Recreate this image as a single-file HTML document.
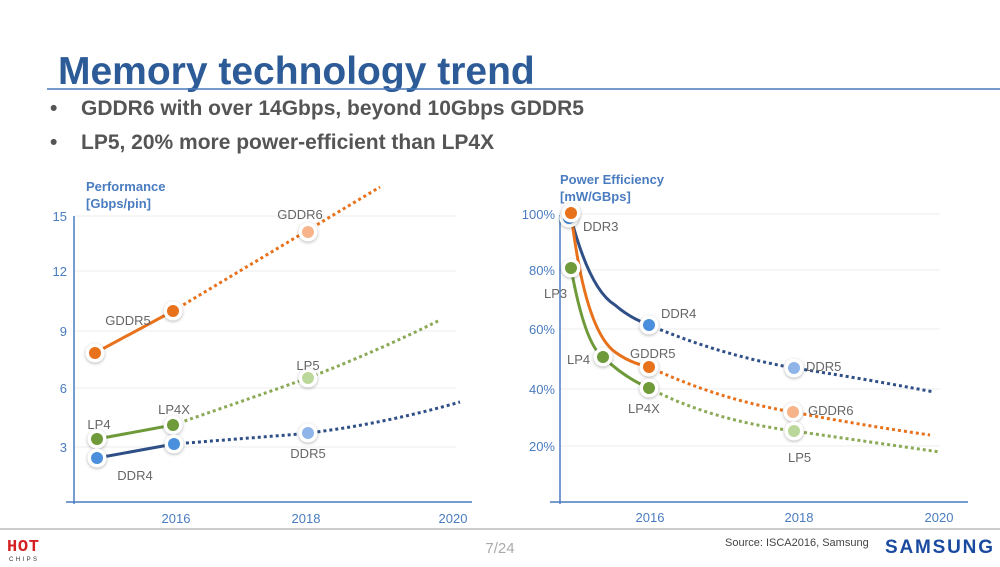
<!DOCTYPE html>
<html><head><meta charset="utf-8"><style>
body{margin:0;width:1000px;height:562px;background:#fff;overflow:hidden;font-family:"Liberation Sans",sans-serif}
</style></head><body>
<svg width="1000" height="562" viewBox="0 0 1000 562" xmlns="http://www.w3.org/2000/svg" font-family="Liberation Sans, sans-serif">
<defs>
<filter id="sh" x="-50%" y="-50%" width="200%" height="200%"><feDropShadow dx="0" dy="1" stdDeviation="1.5" flood-color="#000" flood-opacity="0.3"/></filter>
<g id="m"><circle r="9.5" fill="#fff" filter="url(#sh)"/></g>
</defs>
<text x="58" y="84" font-size="39" font-weight="bold" fill="#2d5b98">Memory technology trend</text>
<line x1="47" y1="89" x2="1000" y2="89" stroke="#4a78b8" stroke-width="1.5"/>
<g font-size="21" font-weight="bold" fill="#555">
<text x="50" y="115">•</text><text x="81" y="115">GDDR6 with over 14Gbps, beyond 10Gbps GDDR5</text>
<text x="50" y="149">•</text><text x="81" y="149">LP5, 20% more power-efficient than LP4X</text>
</g>
<!-- Left chart -->
<g stroke="#eee" stroke-width="1"><line x1="74" y1="216" x2="456" y2="216"/><line x1="74" y1="271" x2="456" y2="271"/><line x1="74" y1="331" x2="456" y2="331"/><line x1="74" y1="388" x2="456" y2="388"/><line x1="74" y1="447" x2="456" y2="447"/></g>
<line x1="74" y1="216" x2="74" y2="504" stroke="#4a7cc0" stroke-width="1.5"/>
<line x1="66" y1="502" x2="472" y2="502" stroke="#4a7cc0" stroke-width="1.5"/>
<g font-size="13" font-weight="bold" fill="#4a7cc0"><text x="86" y="191">Performance</text><text x="86" y="208">[Gbps/pin]</text></g>
<g font-size="13" fill="#4a7cc0" text-anchor="end"><text x="67" y="221">15</text><text x="67" y="276">12</text><text x="67" y="336">9</text><text x="67" y="393">6</text><text x="67" y="452">3</text></g>
<g font-size="13" fill="#4a7cc0" text-anchor="middle"><text x="176" y="523">2016</text><text x="306" y="523">2018</text><text x="453" y="523">2020</text></g>
<g fill="none" stroke-width="3" stroke-dasharray="3,3">
<path d="M173,311 L380,187" stroke="#e8711b"/>
<path d="M173,425 Q260,395 308,378 Q380,350 440,320" stroke="#8aaa55"/>
<path d="M174,444 L300,434 Q380,425 460,402" stroke="#2f4f87"/>
</g>
<g fill="none" stroke-width="3">
<path d="M95,353 L173,311" stroke="#e8711b"/>
<path d="M97,439 L173,425" stroke="#6e9a3a"/>
<path d="M97,458 L174,444" stroke="#2f4f87"/>
</g>
<g>
<use href="#m" x="95" y="353"/><circle cx="95" cy="353" r="6" fill="#e8711b"/>
<use href="#m" x="173" y="311"/><circle cx="173" cy="311" r="6" fill="#e8711b"/>
<use href="#m" x="308" y="232"/><circle cx="308" cy="232" r="6" fill="#f7b48a"/>
<use href="#m" x="97" y="439"/><circle cx="97" cy="439" r="6" fill="#6e9a3a"/>
<use href="#m" x="173" y="425"/><circle cx="173" cy="425" r="6" fill="#6e9a3a"/>
<use href="#m" x="308" y="378"/><circle cx="308" cy="378" r="6" fill="#bcd79a"/>
<use href="#m" x="97" y="458"/><circle cx="97" cy="458" r="6" fill="#4a8fdc"/>
<use href="#m" x="174" y="444"/><circle cx="174" cy="444" r="6" fill="#4a8fdc"/>
<use href="#m" x="308" y="433"/><circle cx="308" cy="433" r="6" fill="#8fb5e8"/>
</g>
<g font-size="13" fill="#666" text-anchor="middle">
<text x="300" y="219">GDDR6</text><text x="128" y="325">GDDR5</text><text x="308" y="370">LP5</text><text x="174" y="414">LP4X</text><text x="99" y="429">LP4</text><text x="308" y="458">DDR5</text><text x="135" y="480">DDR4</text>
</g>
<!-- Right chart -->
<g stroke="#eee" stroke-width="1"><line x1="560" y1="214" x2="940" y2="214"/><line x1="560" y1="270" x2="940" y2="270"/><line x1="560" y1="329" x2="940" y2="329"/><line x1="560" y1="389" x2="940" y2="389"/><line x1="560" y1="446" x2="940" y2="446"/></g>
<line x1="560" y1="215" x2="560" y2="504" stroke="#4a7cc0" stroke-width="1.5"/>
<line x1="550" y1="502" x2="968" y2="502" stroke="#4a7cc0" stroke-width="1.5"/>
<g font-size="13" font-weight="bold" fill="#4a7cc0"><text x="560" y="184">Power Efficiency</text><text x="560" y="201">[mW/GBps]</text></g>
<g font-size="13" fill="#4a7cc0" text-anchor="end"><text x="555" y="219">100%</text><text x="555" y="275">80%</text><text x="555" y="334">60%</text><text x="555" y="394">40%</text><text x="555" y="451">20%</text></g>
<g font-size="13" fill="#4a7cc0" text-anchor="middle"><text x="650" y="522">2016</text><text x="799" y="522">2018</text><text x="939" y="522">2020</text></g>
<g fill="none" stroke-width="3" stroke-dasharray="3,3">
<path d="M649,325 Q720,355 794,368 Q860,378 934,392" stroke="#2f4f87"/>
<path d="M649,367 Q720,400 793,412 Q860,425 930,435" stroke="#e8711b"/>
<path d="M649,388 Q710,420 794,431 Q870,442 940,452" stroke="#8aaa55"/>
</g>
<g fill="none" stroke-width="3">
<path d="M571,218 Q590,290 615,305 Q630,318 649,325" stroke="#2f4f87"/>
<path d="M571,213 Q585,330 615,352 Q630,363 649,367" stroke="#e8711b"/>
<path d="M571,268 Q585,345 603,357 Q625,378 649,388" stroke="#6e9a3a"/>
</g>
<g>
<use href="#m" x="569" y="218"/><circle cx="569" cy="218" r="6" fill="#4a8fdc"/>
<use href="#m" x="571" y="213"/><circle cx="571" cy="213" r="6" fill="#e8711b"/>
<use href="#m" x="571" y="268"/><circle cx="571" cy="268" r="6" fill="#6e9a3a"/>
<use href="#m" x="649" y="325"/><circle cx="649" cy="325" r="6" fill="#4a8fdc"/>
<use href="#m" x="794" y="368"/><circle cx="794" cy="368" r="6" fill="#8fb5e8"/>
<use href="#m" x="603" y="357"/><circle cx="603" cy="357" r="6" fill="#6e9a3a"/>
<use href="#m" x="649" y="367"/><circle cx="649" cy="367" r="6" fill="#e8711b"/>
<use href="#m" x="649" y="388"/><circle cx="649" cy="388" r="6" fill="#6e9a3a"/>
<use href="#m" x="793" y="412"/><circle cx="793" cy="412" r="6" fill="#f7b48a"/>
<use href="#m" x="794" y="431"/><circle cx="794" cy="431" r="6" fill="#bcd79a"/>
</g>
<g font-size="13" fill="#666">
<text x="583" y="231">DDR3</text><text x="544" y="298">LP3</text><text x="661" y="318">DDR4</text><text x="630" y="358">GDDR5</text><text x="806" y="371">DDR5</text><text x="567" y="364">LP4</text><text x="628" y="413">LP4X</text><text x="808" y="415">GDDR6</text><text x="788" y="462">LP5</text>
</g>
<!-- Footer -->
<line x1="0" y1="529" x2="1000" y2="529" stroke="#ccc" stroke-width="2"/>
<text x="7" y="551" font-size="17" font-weight="bold" fill="#d42020" font-family="Liberation Mono, monospace" textLength="32">HOT</text>
<text x="9" y="561" font-size="6" fill="#333" textLength="28">C H I P S</text>
<text x="500" y="553" font-size="15" fill="#aaa" text-anchor="middle">7/24</text>
<text x="725" y="546" font-size="11" fill="#444">Source: ISCA2016, Samsung</text>
<text x="885" y="553" font-size="19" font-weight="bold" fill="#1a4aa0" textLength="108">SAMSUNG</text>
</svg>
</body></html>
